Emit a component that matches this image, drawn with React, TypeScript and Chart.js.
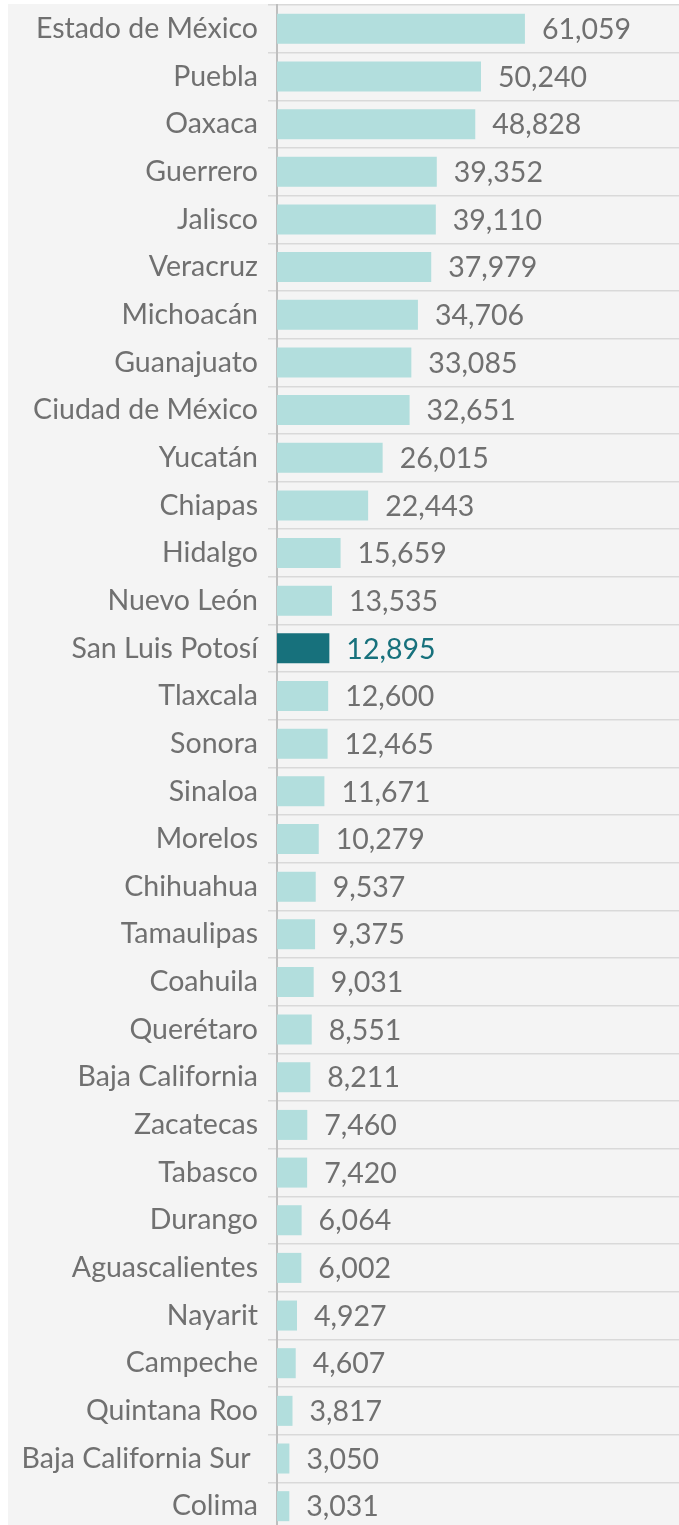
import React, { useEffect, useRef } from "react";
import { Chart, registerables } from "chart.js";

Chart.register(...registerables);

const states = [
  "Estado de México", "Puebla", "Oaxaca", "Guerrero", "Jalisco", "Veracruz",
  "Michoacán", "Guanajuato", "Ciudad de México", "Yucatán", "Chiapas", "Hidalgo",
  "Nuevo León", "San Luis Potosí", "Tlaxcala", "Sonora", "Sinaloa", "Morelos",
  "Chihuahua", "Tamaulipas", "Coahuila", "Querétaro", "Baja California", "Zacatecas",
  "Tabasco", "Durango", "Aguascalientes", "Nayarit", "Campeche", "Quintana Roo",
  "Baja California Sur ", "Colima",
];

const values = [
  61059, 50240, 48828, 39352, 39110, 37979,
  34706, 33085, 32651, 26015, 22443, 15659,
  13535, 12895, 12600, 12465, 11671, 10279,
  9537, 9375, 9031, 8551, 8211, 7460,
  7420, 6064, 6002, 4927, 4607, 3817,
  3050, 3031,
];

const highlightState = "San Luis Potosí";

const FONT = "Lato, 'Open Sans', sans-serif";
const FONT_SIZE = 28.5;
const BAR = "#b2dedd";
const BAR_HI = "#17717c";
const TEXT = "#707070";

export default function App() {
  const ref = useRef<HTMLCanvasElement | null>(null);

  useEffect(() => {
    if (!ref.current) return;
    const valueLabels = {
      id: "valueLabels",
      afterDatasetsDraw(chart: any) {
        const ctx = chart.ctx;
        const meta = chart.getDatasetMeta(0);
        ctx.save();
        ctx.font = `${FONT_SIZE}px ${FONT}`;
        ctx.textBaseline = "middle";
        ctx.textAlign = "left";
        meta.data.forEach((bar: any, i: number) => {
          ctx.fillStyle = states[i] === highlightState ? BAR_HI : TEXT;
          ctx.fillText(values[i].toLocaleString("en-US"), bar.x + 17, bar.y + 1);
        });
        ctx.restore();
      },
    };

    const chart = new Chart(ref.current, {
      type: "bar",
      data: {
        labels: states,
        datasets: [
          {
            data: values,
            backgroundColor: states.map((s) => (s === highlightState ? BAR_HI : BAR)),
            borderWidth: 0,
            categoryPercentage: 1,
            barPercentage: 0.63,
          },
        ],
      },
      options: {
        indexAxis: "y",
        animation: false,
        responsive: false,
        maintainAspectRatio: false,
        layout: { padding: { top: 1, left: 0, right: 0, bottom: 0 } },
        plugins: { legend: { display: false }, tooltip: { enabled: false } },
        scales: {
          x: {
            display: false,
            min: 0,
            max: 99000,
          },
          y: {
            afterFit: (scale: any) => {
              scale.width = 269;
              scale.paddingTop = 0;
              scale.paddingBottom = 0;
            },
            grid: {
              offset: true,
              color: "#d9d9d9",
              lineWidth: 1.5,
              tickLength: 9,
              drawTicks: true,
            },
            border: { display: true, color: "#bfbfbf", width: 2 },
            ticks: {
              color: TEXT,
              padding: 10,
              autoSkip: false,
              font: { family: FONT, size: FONT_SIZE },
            },
          },
        },
      },
      plugins: [valueLabels],
    });
    return () => chart.destroy();
  }, []);

  return (
    <div
      style={{
        position: "absolute",
        left: 8,
        top: 4,
        width: 671,
        height: 1521,
        overflow: "hidden",
        background: "#f4f4f4",
      }}
    >
      <canvas ref={ref} width={671} height={1526} style={{ display: "block" }} />
    </div>
  );
}
